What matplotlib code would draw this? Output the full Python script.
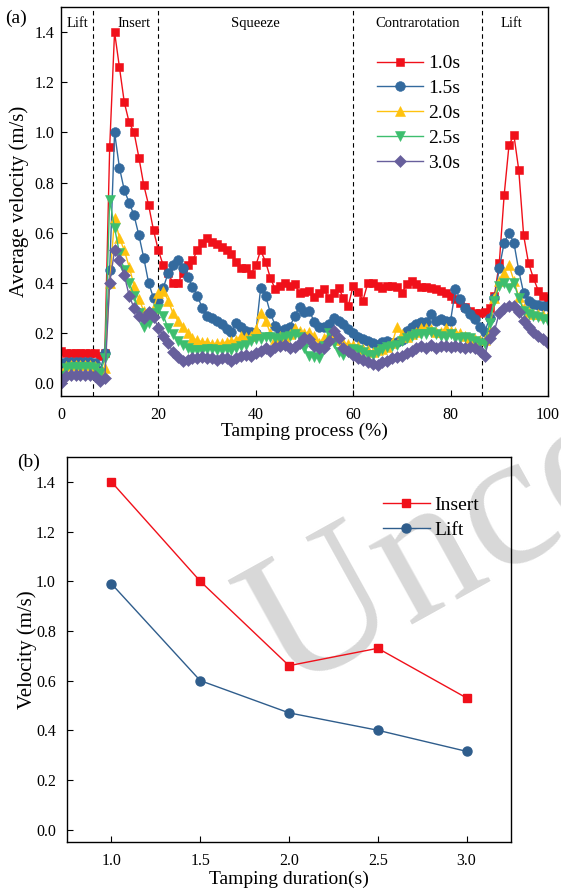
import numpy as np
import matplotlib

matplotlib.use("Agg")
import matplotlib.pyplot as plt

plt.rcParams["font.family"] = ["Liberation Serif", "DejaVu Serif"]
plt.rcParams["mathtext.fontset"] = "stix"

# (a) average velocity of the tamping tines over one tamping cycle, sampled every 1 %
process = np.arange(0, 101)

vel_10 = [0.13, 0.12, 0.12, 0.12, 0.12, 0.12, 0.12, 0.12, 0.11, 0.12,
          0.94, 1.40, 1.26, 1.12, 1.04, 1.00, 0.90, 0.79, 0.71, 0.61,
          0.53, 0.47, 0.44, 0.40, 0.40, 0.44, 0.47, 0.49, 0.53, 0.56,
          0.58, 0.565, 0.555, 0.545, 0.53, 0.515, 0.485, 0.46, 0.46, 0.435,
          0.47, 0.53, 0.485, 0.42, 0.375, 0.39, 0.40, 0.39, 0.395, 0.36,
          0.365, 0.37, 0.345, 0.36, 0.375, 0.34, 0.36, 0.38, 0.34, 0.31,
          0.39, 0.365, 0.33, 0.40, 0.40, 0.39, 0.38, 0.39, 0.39, 0.385,
          0.36, 0.395, 0.41, 0.395, 0.385, 0.385, 0.38, 0.375, 0.37, 0.36,
          0.35, 0.335, 0.32, 0.305, 0.29, 0.28, 0.28, 0.285, 0.30, 0.35,
          0.48, 0.75, 0.95, 0.99, 0.85, 0.59, 0.48, 0.42, 0.37, 0.35,
          0.34]

vel_15 = [0.08, 0.085, 0.085, 0.085, 0.085, 0.085, 0.085, 0.08, 0.05, 0.12,
          0.45, 1.00, 0.86, 0.77, 0.72, 0.67, 0.59, 0.50, 0.40, 0.34,
          0.33, 0.38, 0.44, 0.47, 0.49, 0.46, 0.425, 0.385, 0.35, 0.30,
          0.27, 0.26, 0.25, 0.235, 0.215, 0.205, 0.24, 0.225, 0.21, 0.205,
          0.20, 0.38, 0.35, 0.28, 0.23, 0.21, 0.215, 0.225, 0.27, 0.305,
          0.285, 0.29, 0.245, 0.225, 0.225, 0.235, 0.26, 0.25, 0.235, 0.215,
          0.20, 0.185, 0.178, 0.17, 0.16, 0.152, 0.165, 0.17, 0.16, 0.165,
          0.172, 0.21, 0.225, 0.235, 0.245, 0.245, 0.275, 0.25, 0.258, 0.25,
          0.25, 0.375, 0.335, 0.30, 0.278, 0.255, 0.225, 0.205, 0.26, 0.34,
          0.46, 0.56, 0.60, 0.56, 0.45, 0.36, 0.33, 0.318, 0.312, 0.31,
          0.31]

vel_20 = [0.02, 0.07, 0.075, 0.075, 0.075, 0.075, 0.075, 0.07, 0.04, 0.06,
          0.40, 0.66, 0.58, 0.53, 0.465, 0.39, 0.335, 0.29, 0.27, 0.30,
          0.36, 0.37, 0.33, 0.28, 0.25, 0.225, 0.20, 0.18, 0.172, 0.165,
          0.165, 0.158, 0.16, 0.16, 0.165, 0.17, 0.172, 0.19, 0.185, 0.19,
          0.215, 0.28, 0.25, 0.20, 0.178, 0.19, 0.185, 0.198, 0.22, 0.21,
          0.20, 0.205, 0.19, 0.16, 0.18, 0.195, 0.18, 0.172, 0.16, 0.158,
          0.155, 0.15, 0.138, 0.132, 0.125, 0.132, 0.138, 0.145, 0.16, 0.225,
          0.195, 0.185, 0.198, 0.205, 0.222, 0.222, 0.215, 0.205, 0.205, 0.22,
          0.21, 0.205, 0.20, 0.188, 0.18, 0.175, 0.172, 0.172, 0.21, 0.34,
          0.41, 0.44, 0.47, 0.41, 0.345, 0.30, 0.285, 0.278, 0.278, 0.272,
          0.27]

vel_25 = [0.03, 0.06, 0.065, 0.065, 0.065, 0.065, 0.065, 0.06, 0.04, 0.10,
          0.73, 0.62, 0.52, 0.45, 0.40, 0.35, 0.28, 0.225, 0.24, 0.28,
          0.295, 0.27, 0.22, 0.195, 0.17, 0.155, 0.14, 0.133, 0.132, 0.133,
          0.136, 0.137, 0.132, 0.135, 0.138, 0.132, 0.14, 0.148, 0.155, 0.17,
          0.178, 0.178, 0.185, 0.185, 0.18, 0.178, 0.185, 0.19, 0.198, 0.185,
          0.14, 0.11, 0.105, 0.10, 0.15, 0.20, 0.16, 0.125, 0.115, 0.125,
          0.138, 0.132, 0.125, 0.115, 0.115, 0.125, 0.138, 0.145, 0.148, 0.155,
          0.17, 0.18, 0.19, 0.195, 0.198, 0.198, 0.205, 0.195, 0.188, 0.185,
          0.195, 0.18, 0.182, 0.185, 0.18, 0.17, 0.162, 0.158, 0.24, 0.33,
          0.39, 0.40, 0.38, 0.40, 0.34, 0.29, 0.275, 0.27, 0.265, 0.255,
          0.25]

vel_30 = [0.0, 0.03, 0.035, 0.035, 0.035, 0.035, 0.035, 0.03, 0.01, 0.02,
          0.40, 0.53, 0.49, 0.43, 0.35, 0.30, 0.27, 0.26, 0.285, 0.265,
          0.22, 0.19, 0.16, 0.125, 0.105, 0.09, 0.095, 0.10, 0.10, 0.105,
          0.10, 0.10, 0.095, 0.10, 0.10, 0.09, 0.10, 0.11, 0.115, 0.11,
          0.12, 0.13, 0.14, 0.13, 0.145, 0.15, 0.155, 0.14, 0.145, 0.16,
          0.18, 0.175, 0.15, 0.14, 0.14, 0.17, 0.21, 0.18, 0.14, 0.13,
          0.115, 0.10, 0.092, 0.085, 0.078, 0.075, 0.085, 0.09, 0.10, 0.105,
          0.11, 0.12, 0.13, 0.14, 0.15, 0.14, 0.155, 0.14, 0.15, 0.148,
          0.145, 0.15, 0.145, 0.14, 0.145, 0.14, 0.13, 0.11, 0.18, 0.21,
          0.28, 0.30, 0.31, 0.31, 0.285, 0.25, 0.225, 0.205, 0.19, 0.175,
          0.16]

series_labels = ["1.0s", "1.5s", "2.0s", "2.5s", "3.0s"]
series_colors = ["#F0101A", "#336A9E", "#FFC20E", "#3DBE6E", "#675F9C"]
series_markers = ["s", "o", "^", "v", "D"]
series_sizes = [6, 7, 7.5, 7.5, 6]

stage_bounds = [6.6, 20, 60, 86.5]
stage_names = ["Lift", "Insert", "Squeeze", "Contrarotation", "Lift"]
stage_centres = [3.3, 15.0, 40.0, 73.3, 92.6]

# (b) peak velocity of each stage against tamping duration
duration = [1.0, 1.5, 2.0, 2.5, 3.0]
insert_peak = [1.40, 1.00, 0.66, 0.73, 0.53]
lift_peak = [0.99, 0.60, 0.47, 0.40, 0.315]

fig = plt.figure(figsize=(5.61, 8.90), dpi=100)

# grey watermark behind both panels
fig.text(0.51, 0.222, "Uncorrected", fontsize=140, color="#d8d8d8",
         rotation=29, rotation_mode="anchor", ha="left", va="baseline",
         zorder=-5)

ax1 = fig.add_axes([0.1087, 0.5551, 0.8681, 0.4371])
ax1.patch.set_alpha(0)
for y, lab, c, m, ms in zip([vel_10, vel_15, vel_20, vel_25, vel_30],
                            series_labels, series_colors, series_markers,
                            series_sizes):
    ax1.plot(process, y, color=c, marker=m, markersize=ms, lw=1.0,
             markeredgewidth=0.4, label=lab)

for xb in stage_bounds:
    ax1.axvline(xb, color="black", lw=0.8, ls=(0, (4, 3)), zorder=0)
for xc, name in zip(stage_centres, stage_names):
    ax1.text(xc, 1.435, name, ha="center", va="center", fontsize=10.5)

ax1.set_xlim(0, 100)
ax1.set_ylim(-0.05, 1.5)
ax1.set_xticks(np.arange(0, 101, 20))
ax1.set_yticks(np.arange(0, 1.41, 0.2))
ax1.set_yticklabels([f"{v:.1f}" for v in np.arange(0, 1.41, 0.2)])
ax1.tick_params(direction="in", length=4, width=0.8, labelsize=11.5)
ax1.tick_params(axis="x", pad=8)
ax1.tick_params(axis="y", pad=5)
ax1.set_xlabel("Tamping process (%)", fontsize=14, labelpad=0)
ax1.set_ylabel("Average velocity (m/s)", fontsize=15, labelpad=4)
ax1.legend(loc="upper left", bbox_to_anchor=(0.648, 0.877), frameon=False,
           fontsize=14, handlelength=2.4, handletextpad=0.25,
           labelspacing=0.37, borderpad=0, borderaxespad=0)
fig.text(0.010, 0.974, "(a)", fontsize=14)

ax2 = fig.add_axes([0.1194, 0.0539, 0.7915, 0.4326])
ax2.patch.set_alpha(0)
ax2.plot(duration, insert_peak, color="#F0101A", marker="s", markersize=6,
         lw=1.0, label="Insert")
ax2.plot(duration, lift_peak, color="#2F5D8C", marker="o", markersize=6.5,
         lw=1.0, label="Lift")
ax2.set_xlim(0.75, 3.25)
ax2.set_ylim(-0.05, 1.5)
ax2.set_xticks(duration)
ax2.set_xticklabels([f"{v:.1f}" for v in duration])
ax2.set_yticks(np.arange(0, 1.41, 0.2))
ax2.set_yticklabels([f"{v:.1f}" for v in np.arange(0, 1.41, 0.2)])
ax2.tick_params(direction="in", length=4, width=0.8, labelsize=11.5)
ax2.tick_params(axis="x", pad=8)
ax2.tick_params(axis="y", pad=8)
ax2.set_xlabel("Tamping duration(s)", fontsize=14, labelpad=1)
ax2.set_ylabel("Velocity (m/s)", fontsize=15, labelpad=-1)
ax2.legend(loc="upper left", bbox_to_anchor=(0.712, 0.898), frameon=False,
           fontsize=14, handlelength=2.4, handletextpad=0.25,
           labelspacing=0.37, borderpad=0, borderaxespad=0)
fig.text(0.030, 0.475, "(b)", fontsize=14)

for ax in (ax1, ax2):
    for sp in ax.spines.values():
        sp.set_linewidth(1.0)

fig.savefig("out.png", dpi=100)
